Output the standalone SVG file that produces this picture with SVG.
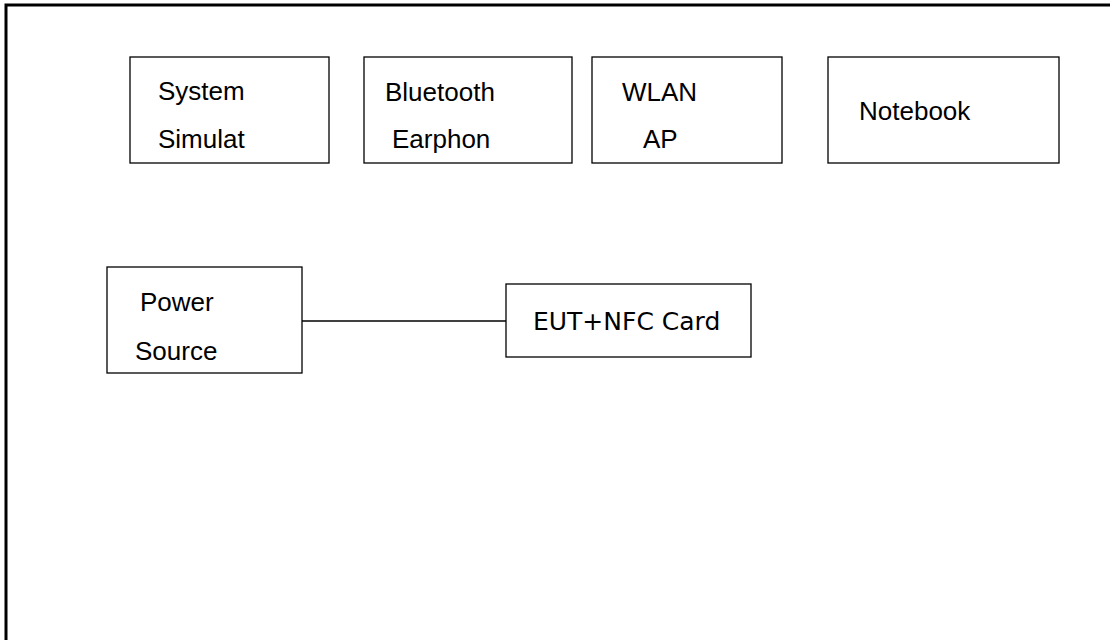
<svg xmlns="http://www.w3.org/2000/svg" width="1110" height="640" viewBox="0 0 1110 640">
<style>
.box{fill:#fff;stroke:#000;stroke-width:1.3}
.t{font-family:"Liberation Sans",Arial,sans-serif;font-size:26px;fill:#000}
.d{font-family:"DejaVu Sans",sans-serif;font-size:25px;fill:#000}
.c{stroke:#000;stroke-width:1.3;fill:none}
</style>
<rect x="0" y="0" width="1110" height="640" fill="#fff"/>
<rect x="6" y="5" width="1120" height="660" fill="none" stroke="#000" stroke-width="3"/>
<g id="connectors">
<line class="c" x1="302" y1="321" x2="506" y2="321"/>
</g>
<g id="system-simulat">
<rect class="box" x="130" y="57" width="199" height="106"/>
<text class="t" x="158" y="100">System</text>
<text class="t" x="158" y="148">Simulat</text>
</g>
<g id="bluetooth-earphon">
<rect class="box" x="364" y="57" width="208" height="106"/>
<text class="t" x="385" y="101">Bluetooth</text>
<text class="t" x="392" y="148">Earphon</text>
</g>
<g id="wlan-ap">
<rect class="box" x="592" y="57" width="190" height="106"/>
<text class="t" x="622" y="101">WLAN</text>
<text class="t" x="643" y="148">AP</text>
</g>
<g id="notebook">
<rect class="box" x="828" y="57" width="231" height="106"/>
<text class="t" x="859" y="120">Notebook</text>
</g>
<g id="power-source">
<rect class="box" x="107" y="267" width="195" height="106"/>
<text class="t" x="140" y="311">Power</text>
<text class="t" x="135" y="360">Source</text>
</g>
<g id="eut">
<rect class="box" x="506" y="284" width="245" height="73"/>
<text class="d" x="533" y="330">EUT+NFC Card</text>
</g>
</svg>
